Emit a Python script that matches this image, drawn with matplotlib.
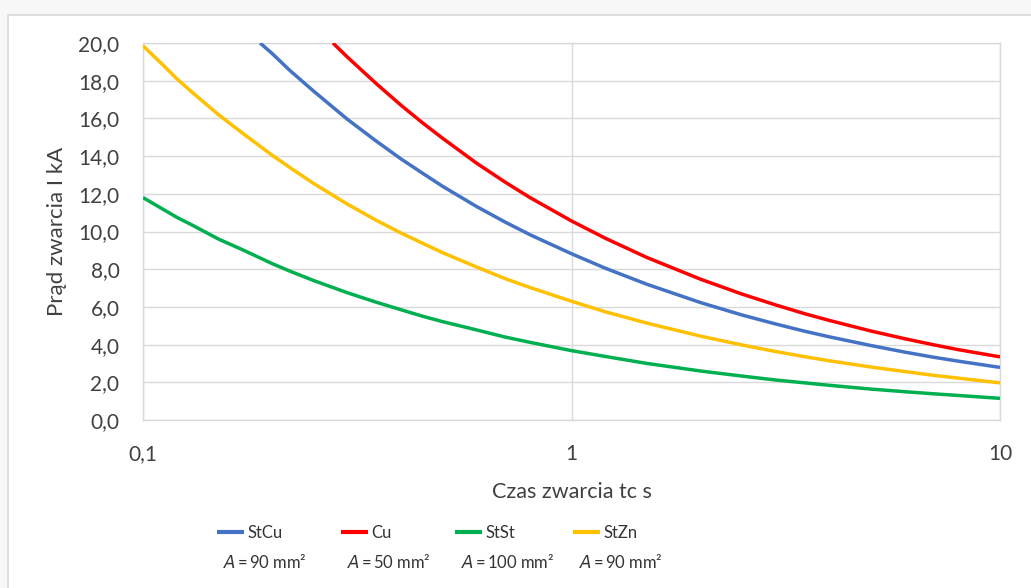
import matplotlib
matplotlib.use("Agg")
import matplotlib.pyplot as plt
from matplotlib.patches import Rectangle
from matplotlib.ticker import FixedLocator, FuncFormatter, NullLocator

plt.rcParams['font.family'] = ['Lato', 'DejaVu Sans']

# ---- data ----
t_stst = [0.1, 0.11, 0.12, 0.13, 0.15, 0.17, 0.2, 0.22, 0.25, 0.3, 0.35, 0.4, 0.45, 0.5, 0.6, 0.7, 0.8,
          1, 1.2, 1.5, 2, 2.5, 3, 3.5, 4, 5, 6, 7, 8, 10]
stst = [11.8, 11.25, 10.75, 10.35, 9.6, 9.05, 8.3, 7.9, 7.4, 6.75, 6.25, 5.85, 5.5, 5.22, 4.78, 4.4, 4.12,
        3.68, 3.37, 3.0, 2.6, 2.33, 2.12, 1.97, 1.84, 1.64, 1.5, 1.39, 1.3, 1.15]
t_stzn = [0.1, 0.11, 0.12, 0.13, 0.15, 0.17, 0.2, 0.22, 0.25, 0.3, 0.35, 0.4, 0.45, 0.5, 0.6, 0.7, 0.8,
          1, 1.2, 1.5, 2, 2.5, 3, 3.5, 4, 5, 6, 7, 8, 10]
stzn = [19.85, 18.95, 18.1, 17.4, 16.2, 15.25, 14.05, 13.4, 12.55, 11.45, 10.6, 9.92, 9.37, 8.88, 8.12, 7.5, 7.03,
        6.3, 5.74, 5.14, 4.45, 3.98, 3.63, 3.36, 3.14, 2.81, 2.57, 2.37, 2.22, 1.97]
t_stcu = [0.1876, 0.2, 0.22, 0.25, 0.3, 0.35, 0.4, 0.45, 0.5, 0.6, 0.7, 0.8, 1, 1.2, 1.5, 2, 2.5, 3, 3.5,
          4, 5, 6, 7, 8, 10]
stcu = [20.0, 19.45, 18.55, 17.45, 15.95, 14.8, 13.85, 13.08, 12.4, 11.33, 10.5, 9.83, 8.82, 8.05, 7.2, 6.23,
        5.57, 5.09, 4.71, 4.41, 3.95, 3.6, 3.33, 3.12, 2.79]
t_cu = [0.2775, 0.3, 0.35, 0.4, 0.45, 0.5, 0.6, 0.7, 0.8, 1, 1.2, 1.5, 2, 2.5, 3, 3.5, 4, 5, 6, 7, 8, 10]
cu = [20.0, 19.25, 17.85, 16.7, 15.75, 14.95, 13.63, 12.62, 11.8, 10.56, 9.64, 8.62, 7.47, 6.68, 6.1, 5.64,
      5.28, 4.72, 4.31, 3.99, 3.73, 3.35]

series_names = ['StCu', 'Cu', 'StSt', 'StZn']
series_sub = ['$A$\u2009=\u200990 mm²', '$A$\u2009=\u200950 mm²', '$A$\u2009=\u2009100 mm²', '$A$\u2009=\u200990 mm²']
colors = ['#4472C4', '#FF0000', '#00B050', '#FFC000']

x_ticks = [0.1, 1, 10]
x_ticklabels = ['0,1', '1', '10']
y_ticks = [0, 2, 4, 6, 8, 10, 12, 14, 16, 18, 20]

W, H = 1031, 588
fig = plt.figure(figsize=(W / 100, H / 100), dpi=100)
fig.patch.set_facecolor('#f7f7f7')
bg = Rectangle((8 / W, -0.1), 1.2, 1 - 15 / H + 0.1, transform=fig.transFigure,
               facecolor='white', edgecolor='#d9d9d9', lw=1.2, zorder=-10)
fig.add_artist(bg)

ax = fig.add_axes([143 / W, 1 - 420 / H, (1000 - 143) / W, (420 - 43) / H])
ax.set_zorder(5)
ax.set_facecolor('white')

lines = {}
for name, tx, vals, c in [('StCu', t_stcu, stcu, colors[0]), ('Cu', t_cu, cu, colors[1]),
                          ('StSt', t_stst, stst, colors[2]), ('StZn', t_stzn, stzn, colors[3])]:
    ln, = ax.plot(tx, vals, color=c, lw=2.5, solid_capstyle='butt', solid_joinstyle='round', zorder=3)
    lines[name] = ln

ax.set_xscale('log')
ax.set_xlim(0.1, 10)
ax.set_ylim(0, 20)
ax.xaxis.set_major_locator(FixedLocator(x_ticks))
ax.xaxis.set_minor_locator(NullLocator())
ax.set_xticklabels(x_ticklabels)
ax.yaxis.set_major_locator(FixedLocator(y_ticks))
ax.yaxis.set_major_formatter(FuncFormatter(lambda v, p: f'{v:.1f}'.replace('.', ',')))
ax.grid(True, which='major', color='#d9d9d9', lw=1.0, zorder=0)
for s in ax.spines.values():
    s.set_color('#d9d9d9')
    s.set_linewidth(1.0)
ax.tick_params(axis='both', length=0, labelsize=15, colors='#404040')
ax.tick_params(axis='x', pad=17)
ax.tick_params(axis='y', pad=17)

ax.set_xlabel('Czas zwarcia tc s', fontsize=15.5, color='#404040', labelpad=13)
ax.set_ylabel('Prąd zwarcia I kA', fontsize=16, color='#404040', labelpad=8)

# legend: four entries with a second line underneath
handle_x = [217, 341, 455, 573]
for name, sub, hx in zip(series_names, series_sub, handle_x):
    leg = fig.legend([lines[name]], [name], loc='center left',
                     bbox_to_anchor=(hx / W, 1 - 533 / H), frameon=False,
                     fontsize=12, handlelength=1.6, handletextpad=0.2,
                     borderpad=0, borderaxespad=0, labelcolor='#333333')
    leg.set_zorder(6)
    for h in leg.legend_handles:
        h.set_linewidth(3.0)
    fig.text((hx + 6) / W, 1 - 562 / H, sub, fontsize=12, color='#333333',
             ha='left', va='center', zorder=6)

fig.savefig('out.png', dpi=100, facecolor=fig.get_facecolor())
